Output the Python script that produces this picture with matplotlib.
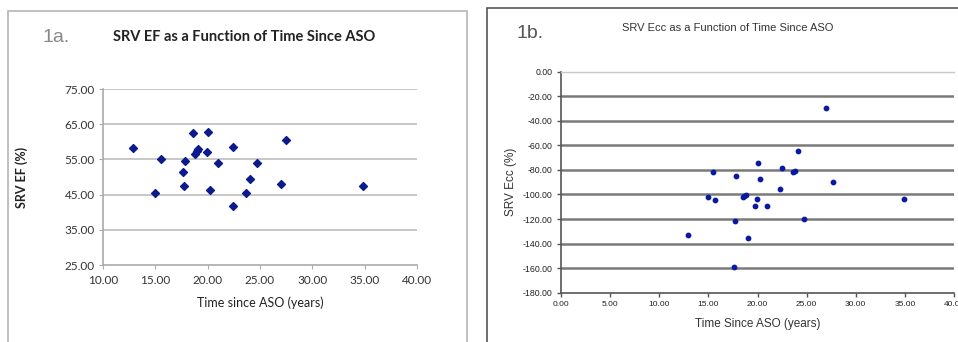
import matplotlib
matplotlib.use("Agg")
import matplotlib.pyplot as plt
from matplotlib.patches import Rectangle

# Panel 1a data
ef_time = [12.9, 15.0, 15.5, 17.6, 17.8, 17.7, 18.6, 18.8, 18.95, 19.1, 19.9, 20.0,
           20.25, 21.0, 22.4, 22.45, 23.7, 24.0, 24.7, 27.0, 27.5, 34.8]
ef_vals = [58.2, 45.4, 55.0, 51.3, 54.6, 47.4, 62.4, 56.5, 57.5, 57.9, 57.0, 62.8,
           46.3, 54.1, 58.4, 41.7, 45.4, 49.3, 54.1, 48.0, 60.4, 47.4]

# Panel 1b data
ecc_time = [27.0, 24.1, 20.0, 22.5, 23.6, 23.8, 15.5, 17.8, 20.3, 27.7, 22.3, 15.0,
            15.7, 18.5, 18.6, 18.8, 19.9, 19.7, 21.0, 34.9, 17.7, 24.7, 12.9, 19.0, 17.6]
ecc_vals = [-29.9, -64.4, -74.7, -78.5, -81.8, -81.2, -81.8, -85.3, -87.5, -89.9, -95.9, -101.9,
            -104.1, -102.4, -101.4, -100.3, -103.8, -109.5, -109.0, -103.8, -121.5, -120.1,
            -132.9, -135.3, -159.0]

ef_yticks = [25, 35, 45, 55, 65, 75]
ef_xticks = [10, 15, 20, 25, 30, 35, 40]
ecc_yticks = [0, -20, -40, -60, -80, -100, -120, -140, -160, -180]
ecc_xticks = [0, 5, 10, 15, 20, 25, 30, 35, 40]

W, H = 958, 342
fig = plt.figure(figsize=(W / 100, H / 100), dpi=100)
fig.patch.set_facecolor("white")

def fx(px):
    return px / W

def fy(py):
    return 1 - py / H

# Panel borders
fig.patches.append(Rectangle((fx(8), fy(345)), fx(467) - fx(8), fy(11) - fy(345),
                             transform=fig.transFigure, fill=False, edgecolor="#b5b5b5", lw=1.2))
fig.patches.append(Rectangle((fx(487), fy(345)), fx(965) - fx(487), fy(8) - fy(345),
                             transform=fig.transFigure, fill=False, edgecolor="#555555", lw=1.2))

# ---------------- Panel 1a ----------------
ax1 = fig.add_axes([fx(103), fy(265), fx(417) - fx(103), fy(89) - fy(265)])
ax1.scatter(ef_time, ef_vals, marker="D", s=16, color="#0b1a8c", zorder=3)
ax1.set_xlim(10, 40)
ax1.set_ylim(25, 75)
ax1.set_xticks(ef_xticks)
ax1.set_yticks(ef_yticks)
ax1.set_xticklabels([f"{v:.2f}" for v in ef_xticks], fontsize=8.5, family="Lato", color="#333333")
ax1.set_yticklabels([f"{v:.2f}" for v in ef_yticks], fontsize=8.5, family="Lato", color="#333333")
for y in ef_yticks[1:]:
    ax1.axhline(y, color="#bdbdbd", lw=1.2, zorder=1)
for s in ["top", "right"]:
    ax1.spines[s].set_visible(False)
for s in ["left", "bottom"]:
    ax1.spines[s].set_color("#aaaaaa")
    ax1.spines[s].set_linewidth(1.2)
ax1.tick_params(axis="x", direction="out", length=3, color="#aaaaaa", pad=4)
ax1.tick_params(axis="y", direction="out", length=3, color="#aaaaaa", pad=3)
ax1.set_xlabel("Time since ASO (years)", fontsize=9, family="Lato", color="#222222", labelpad=8)
ax1.set_ylabel("SRV EF (%)", fontsize=9, family="Lato", fontweight="bold", color="#222222", labelpad=26)
fig.text(fx(244), fy(37), "SRV EF as a Function of Time Since ASO", fontsize=10.5, family="Lato",
         fontweight="bold", ha="center", va="center", color="#222222")
fig.text(fx(43), fy(37), "1a.", fontsize=14, family="Liberation Sans", ha="left", va="center", color="#888888")

# ---------------- Panel 1b ----------------
ax2 = fig.add_axes([fx(561), fy(292.7), fx(954) - fx(561), fy(71.7) - fy(292.7)])
ax2.scatter(ecc_time, ecc_vals, marker="o", s=10, color="#0a1aa0", zorder=3)
ax2.set_xlim(0, 40)
ax2.set_ylim(-180, 0)
ax2.set_xticks(ecc_xticks)
ax2.set_yticks(ecc_yticks)
ax2.set_xticklabels([f"{v:.2f}" for v in ecc_xticks], fontsize=6, family="Liberation Sans", color="#222222")
ax2.set_yticklabels([f"{v:.2f}" for v in ecc_yticks], fontsize=6.3, family="Liberation Sans", color="#222222")
for y in ecc_yticks[1:-1]:
    ax2.axhline(y, color="#7a7a7a", lw=1.8, zorder=1)
ax2.spines["top"].set_color("#c8c8c8")
ax2.spines["top"].set_linewidth(1.0)
ax2.spines["right"].set_visible(False)
for s in ["left", "bottom"]:
    ax2.spines[s].set_color("#555555")
    ax2.spines[s].set_linewidth(1.2)
ax2.tick_params(axis="both", direction="out", length=3, color="#555555", width=1, pad=3)
ax2.set_xlabel("Time Since ASO (years)", fontsize=8.5, family="Liberation Sans", color="#333333", labelpad=7)
ax2.set_ylabel("SRV Ecc (%)", fontsize=8.5, family="Liberation Sans", color="#333333", labelpad=4)
fig.text(fx(728), fy(28), "SRV Ecc as a Function of Time Since ASO", fontsize=8, family="Liberation Sans",
         ha="center", va="center", color="#333333")
fig.text(fx(517), fy(33), "1b.", fontsize=14, family="Liberation Sans", ha="left", va="center", color="#555555")

fig.savefig("out.png", dpi=100, facecolor="white")
